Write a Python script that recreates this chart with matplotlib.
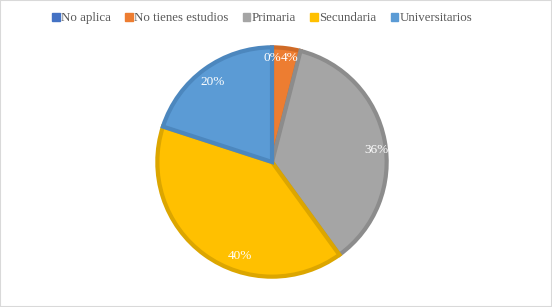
import matplotlib.pyplot as plt
from matplotlib.patches import Rectangle

labels = ["No aplica", "No tienes estudios", "Primaria", "Secundaria", "Universitarios"]
values = [0, 4, 36, 40, 20]
colors = ["#4472C4", "#ED7D31", "#A5A5A5", "#FFC000", "#5B9BD5"]
edges = ["#3A62A8", "#CF6A26", "#8C8C8C", "#DCA600", "#4C87BE"]
# label positions (Excel "inside end" style)
label_pos = [(0.0, 0.89), (0.15, 0.89), (0.89, 0.10), (-0.27, -0.80), (-0.51, 0.68)]

fig = plt.figure(figsize=(5.52, 3.07), dpi=100)
plt.rcParams["font.family"] = ["Liberation Serif", "DejaVu Serif"]

# chart frame
fig.patches.append(Rectangle((0, 0), 1, 1, transform=fig.transFigure,
                             fill=False, edgecolor="#D9D9D9", linewidth=1.5))

cx, cy, r = 272, 162, 117
ax = fig.add_axes([(cx - r) / 552, (307 - cy - r) / 307, 2 * r / 552, 2 * r / 307])

wedges, texts, autotexts = ax.pie(
    values, colors=colors, startangle=90, counterclock=False,
    autopct=lambda p: f"{p:.0f}%", pctdistance=0.87, radius=0.98,
    wedgeprops=dict(linewidth=3),
    textprops=dict(color="white", fontsize=9.5),
)
for w, e in zip(wedges, edges):
    w.set_edgecolor(e)
for t, p in zip(autotexts, label_pos):
    t.set_position(p)
ax.set_xlim(-1, 1)
ax.set_ylim(-1, 1)
ax.set_aspect("auto")

handles = [Rectangle((0, 0), 1, 1, color=c) for c in colors]
fig.legend(handles, labels, loc="center", bbox_to_anchor=(0.475, 0.94), ncol=5,
           frameon=False, fontsize=9.3, handlelength=0.6, handleheight=0.6,
           handletextpad=0.1, columnspacing=1.1, labelcolor="#595959")

fig.savefig("out.png", dpi=100)
